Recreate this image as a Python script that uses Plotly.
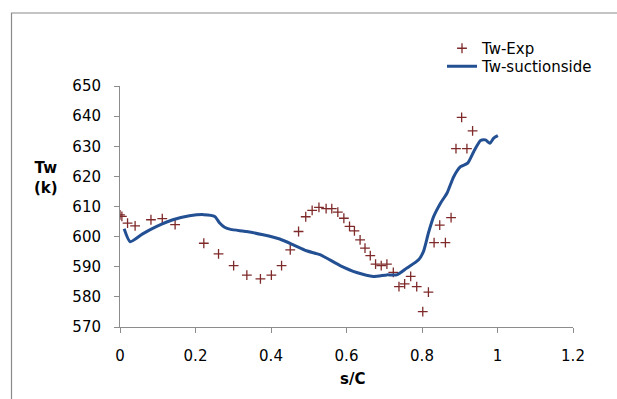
import plotly.graph_objects as go

# Experimental wall temperature (s/C, Tw)
exp_x = [0.000, 0.005, 0.020, 0.040, 0.082, 0.112, 0.146, 0.222, 0.261, 0.301,
         0.336, 0.372, 0.401, 0.428, 0.451, 0.473, 0.492, 0.509, 0.527, 0.546,
         0.561, 0.577, 0.593, 0.608, 0.621, 0.636, 0.649, 0.663, 0.677, 0.692,
         0.707, 0.724, 0.739, 0.754, 0.770, 0.786, 0.802, 0.817, 0.832, 0.847,
         0.862, 0.877, 0.890, 0.905, 0.919, 0.934]
exp_y = [607.2, 606.7, 604.5, 603.6, 605.6, 606.0, 604.0, 597.8, 594.3, 590.4,
         587.2, 586.0, 587.2, 590.4, 595.6, 601.7, 606.6, 608.7, 609.7, 609.3,
         609.3, 608.1, 606.1, 603.4, 601.9, 598.9, 596.2, 593.7, 590.9, 590.4,
         590.9, 588.1, 583.4, 584.3, 586.8, 583.4, 575.1, 581.6, 598.0, 603.8,
         598.0, 606.3, 629.2, 639.6, 629.2, 635.1]

# Computed wall temperature, suction side
sim_x = [0.011, 0.027, 0.060, 0.096, 0.140, 0.184, 0.222, 0.251, 0.264, 0.277,
         0.293, 0.335, 0.379, 0.423, 0.459, 0.494, 0.530, 0.583, 0.627, 0.671,
         0.707, 0.733, 0.760, 0.791, 0.804, 0.817, 0.831, 0.849, 0.866, 0.884,
         0.902, 0.921, 0.937, 0.955, 0.968, 0.980, 0.990, 1.001]
sim_y = [602.6, 598.3, 600.9, 603.3, 605.6, 606.9, 607.3, 606.7, 604.5, 603.1,
         602.4, 601.7, 600.6, 599.2, 597.3, 595.3, 594.0, 590.4, 588.1, 586.8,
         587.3, 587.3, 589.6, 592.3, 595.1, 601.2, 606.7, 611.1, 614.4, 619.9,
         623.2, 624.4, 628.2, 631.9, 632.1, 631.0, 632.7, 633.5]

x_ticks = [0, 0.2, 0.4, 0.6, 0.8, 1, 1.2]
y_ticks = [570, 580, 590, 600, 610, 620, 630, 640, 650]

FONT = "DejaVu Sans"
AXIS_COLOR = "#8c8c8c"

fig = go.Figure()
fig.add_trace(go.Scatter(
    x=exp_x, y=exp_y, mode="markers", name="Tw-Exp", legend="legend",
    marker=dict(symbol="cross-thin", size=7, color="#7f2a2a",
                line=dict(color="#7f2a2a", width=1.3)),
))
fig.add_trace(go.Scatter(
    x=sim_x, y=sim_y, mode="lines", name="Tw-suctionside", legend="legend2",
    line=dict(color="#234f93", width=3, shape="spline", smoothing=0.6),
))

W, H = 617, 399
L, R, T, B = 120, 44, 86, 72
pw, ph = W - L - R, H - T - B

def px_to_paper_x(px):
    return (px - L) / pw

def px_to_paper_y(py):
    return (H - B - py) / ph

legend_style = dict(
    xanchor="left", yanchor="top", bgcolor="rgba(0,0,0,0)", borderwidth=0,
    font=dict(family=FONT, size=15, color="#000000"), itemwidth=30,
)

fig.update_layout(
    width=W, height=H,
    margin=dict(l=L, r=R, t=T, b=B, pad=0),
    paper_bgcolor="white", plot_bgcolor="white",
    font=dict(family=FONT, size=15, color="#000000"),
    showlegend=True,
    legend=dict(x=px_to_paper_x(442), y=px_to_paper_y(32), **legend_style),
    legend2=dict(x=px_to_paper_x(442), y=px_to_paper_y(50), **legend_style),
    xaxis=dict(
        range=[0, 1.2], tickvals=x_ticks, ticktext=[f"{v:g}" for v in x_ticks],
        showgrid=False, zeroline=False, showline=True, linecolor=AXIS_COLOR,
        linewidth=1, ticks="outside", ticklen=5, tickcolor=AXIS_COLOR,
        ticklabelstandoff=10,
    ),
    yaxis=dict(
        range=[570, 650], tickvals=y_ticks,
        showgrid=False, zeroline=False, showline=True, linecolor=AXIS_COLOR,
        linewidth=1, ticks="outside", ticklen=5, tickcolor=AXIS_COLOR,
        ticklabelstandoff=10,
    ),
    annotations=[
        dict(text="<b>Tw</b><br><b>(k)</b>", x=px_to_paper_x(46), y=px_to_paper_y(178),
             xref="paper", yref="paper", showarrow=False, xanchor="center",
             yanchor="middle", align="center", font=dict(family=FONT, size=15)),
        dict(text="<b>s/C</b>", x=px_to_paper_x(352), y=px_to_paper_y(379),
             xref="paper", yref="paper", showarrow=False, xanchor="center",
             yanchor="middle", font=dict(family=FONT, size=15)),
    ],
    shapes=[
        dict(type="path", xref="paper", yref="paper",
             path=f"M {px_to_paper_x(11.5)},{px_to_paper_y(420)} "
                  f"L {px_to_paper_x(11.5)},{px_to_paper_y(13)} "
                  f"L {px_to_paper_x(640)},{px_to_paper_y(13)}",
             line=dict(color="#8a8a8a", width=1.2)),
    ],
)

fig.write_html("out.html")
